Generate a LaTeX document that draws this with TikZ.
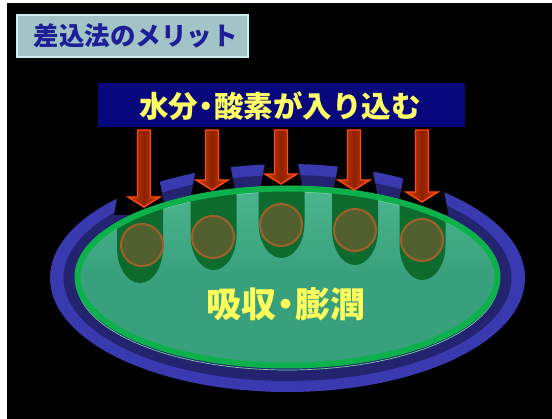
\documentclass[tikz,border=0pt]{standalone}
\usepackage{fontspec}
\newfontfamily\jp{Noto Sans CJK JP}
\definecolor{titlefill}{HTML}{A2C4C7}
\definecolor{titleedge}{HTML}{CFEDEE}
\definecolor{titleink}{HTML}{1E1E96}
\definecolor{bannerfill}{HTML}{08087C}
\definecolor{lemon}{HTML}{FFFF66}
\definecolor{ringblue}{HTML}{3A3AB0}
\definecolor{ringnavy}{HTML}{232370}
\definecolor{rimgreen}{HTML}{0DB14B}
\definecolor{gelfill}{HTML}{38A07C}
\definecolor{geltop}{HTML}{4CB690}
\definecolor{glint}{HTML}{7CCFA0}
\definecolor{pocket}{HTML}{0E6B2E}
\definecolor{seedfill}{HTML}{526030}
\definecolor{seededge}{HTML}{A0602A}
\definecolor{arrowedge}{HTML}{FF4A10}
\definecolor{arrowcore}{HTML}{8E2200}
\definecolor{arrowside}{HTML}{D83A00}
\newcommand\halfdot{\makebox[0.55em]{・}}
\tikzset{
  labelbox/.style={inner sep=0pt, font=\jp\bfseries},
  seed/.style={fill=seedfill, draw=seededge, line width=2pt},
  pocketshape/.style={fill=pocket},
  blockarrow/.style={draw=arrowedge, line width=1.4pt, left color=arrowside,
    right color=arrowside, middle color=arrowcore, line join=miter},
}
\begin{document}
\begin{tikzpicture}[x=1pt,y=-1pt]
  % page frame
  \fill[white] (0,0) rectangle (552,419);
  \fill[black] (7,3) rectangle (552,419);
  \useasboundingbox (0,0) rectangle (552,419);

  % title plate
  \node[labelbox, fill=titlefill, draw=titleedge, line width=1.5pt,
        minimum width=231pt, minimum height=42pt] (title) at (132.5,36) {};
  \node[labelbox, text=titleink, font=\jp\bfseries\fontsize{25.5}{26}\selectfont]
        (titletext) at (136,36) {差込法のメリット};

  % banner
  \node[labelbox, fill=bannerfill, minimum width=367pt, minimum height=44pt]
        (banner) at (281.5,105) {};
  \node[labelbox, text=lemon, font=\jp\bfseries\fontsize{29.5}{30}\selectfont]
        (bannertext) at (280,106) {水分\halfdot 酸素が入り込む};

  % outer blue rim
  \fill[ringblue] (287.5,278) ellipse [x radius=237.5pt, y radius=114pt];
  \fill[ringnavy] (287.5,278) ellipse [x radius=224pt, y radius=103pt];

  % openings through the rim
  \foreach \c in {140,213.5,281.5,355,422.5}{
    \fill[black] (\c-14,150) -- (\c+14,150) -- (\c+26,215) -- (\c-26,215) -- cycle;
  }

  % green body
  \shade[top color=geltop, bottom color=gelfill, middle color=gelfill]
        (287.5,277) ellipse [x radius=211pt, y radius=89.5pt];
  \draw[glint, line width=0.7pt] (287.5,281) ellipse [x radius=211pt, y radius=89pt];

  % pockets with seeds
  \begin{scope}
    \clip (287.5,277) ellipse [x radius=211pt, y radius=89.5pt];
    \foreach \c/\b in {140/283,213.5/270,281.5/258,355/265,422.5/280}{
      \fill[pocketshape] (\c-23,170) -- (\c-23,\b-35)
        arc[start angle=180, end angle=360, x radius=23pt, y radius=35pt]
        -- (\c+23,170) -- cycle;
    }
  \end{scope}
  \draw[rimgreen, line width=6pt] (287.5,277) ellipse [x radius=210pt, y radius=88.5pt];

  \foreach \n/\x/\y in {1/142/245,2/213/237,3/281/225,4/355/230,5/422/240}{
    \node[seed, circle, minimum size=42pt, inner sep=0pt] (seed\n) at (\x,\y) {};
  }

  % arrows from the banner into the pockets
  \foreach \n/\c/\t in {1/144/207,2/212/190,3/281/184,4/354/190,5/422/202}{
    \coordinate (tip\n) at (\c,\t);
    \shadedraw[blockarrow] (\c-6.5,130) -- (\c-6.5,\t-10) -- (\c-16,\t-10)
      -- (tip\n) -- (\c+16,\t-10) -- (\c+6.5,\t-10) -- (\c+6.5,130) -- cycle;
  }

  \node[labelbox, text=lemon!90!yellow, font=\jp\bfseries\fontsize{35}{36}\selectfont]
        (body) at (286,304) {吸収\halfdot 膨潤};
\end{tikzpicture}
\end{document}
